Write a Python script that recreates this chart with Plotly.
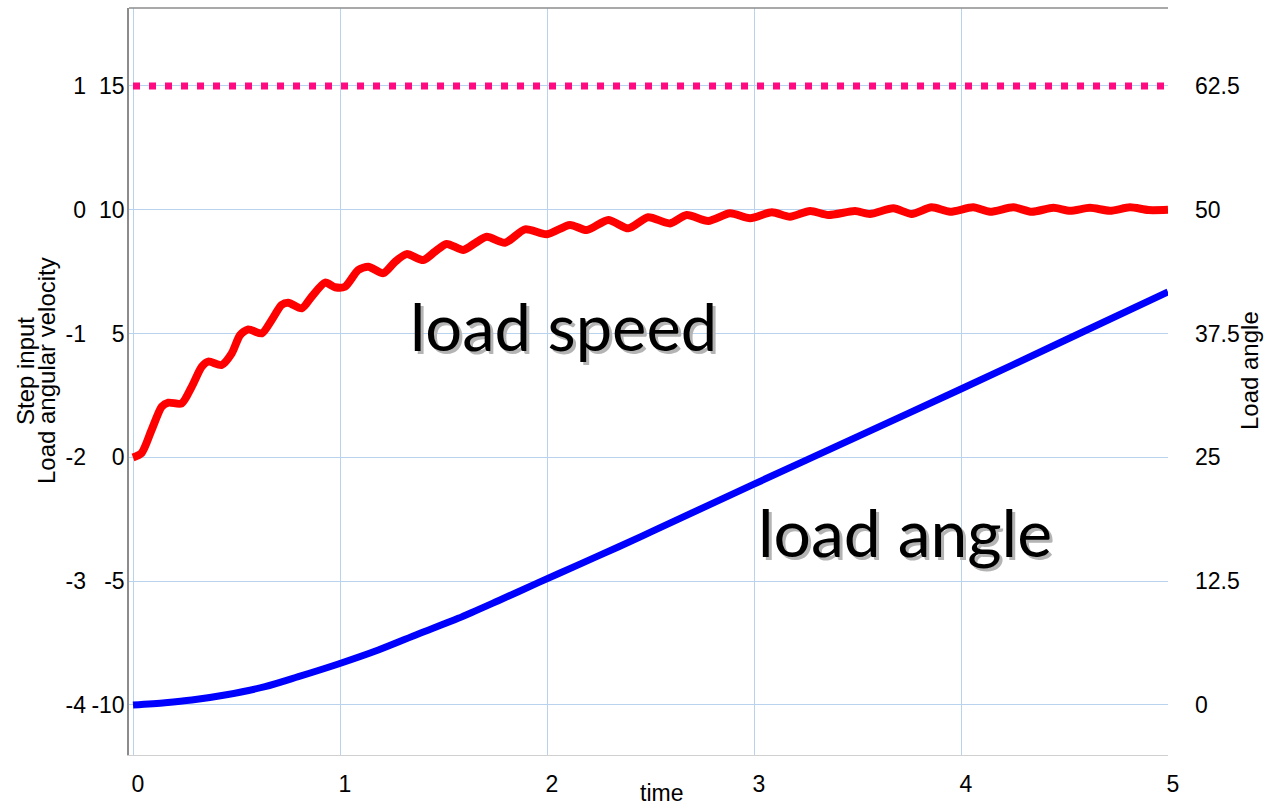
import plotly.graph_objects as go

# Simulation output: step input, load angular velocity (rad/s) and load angle (rad)
step_time = [0.0, 5.0]
step_input = [1.0, 1.0]

speed_time = [0.0, 0.042, 0.090, 0.139, 0.171, 0.235, 0.284, 0.332, 0.364, 0.428,
              0.477, 0.517, 0.557, 0.622, 0.670, 0.718, 0.750, 0.815, 0.863, 0.928,
              0.976, 1.024, 1.088, 1.137, 1.209, 1.266, 1.322, 1.402, 1.459, 1.515,
              1.596, 1.652, 1.709, 1.797, 1.894, 1.999, 2.111, 2.192, 2.296, 2.393,
              2.489, 2.594, 2.675, 2.779, 2.884, 2.981, 3.086, 3.174, 3.271, 3.359,
              3.488, 3.560, 3.673, 3.762, 3.858, 3.947, 4.059, 4.140, 4.253, 4.342,
              4.446, 4.527, 4.623, 4.720, 4.816, 4.905, 5.0]
load_speed = [0.0, 0.18, 1.11, 2.05, 2.21, 2.18, 2.86, 3.66, 3.87, 3.73,
              4.20, 4.94, 5.17, 5.01, 5.55, 6.16, 6.25, 6.02, 6.49, 7.06,
              6.87, 6.89, 7.57, 7.70, 7.44, 7.90, 8.21, 7.97, 8.31, 8.62,
              8.38, 8.65, 8.91, 8.67, 9.21, 9.01, 9.39, 9.18, 9.59, 9.25,
              9.70, 9.45, 9.79, 9.55, 9.86, 9.66, 9.90, 9.72, 9.95, 9.79,
              9.95, 9.83, 10.06, 9.83, 10.10, 9.92, 10.10, 9.92, 10.10, 9.92,
              10.08, 9.96, 10.08, 9.96, 10.10, 9.99, 10.0]

angle_time = [0.0, 0.155, 0.284, 0.444, 0.638, 0.799, 0.992, 1.185, 1.378, 1.571,
              1.765, 1.958, 2.151, 2.344, 2.5, 3.0, 3.5, 4.0, 4.5, 5.0]
load_angle = [0.0, 0.23, 0.50, 1.01, 1.85, 2.86, 4.14, 5.55, 7.17, 8.75,
              10.53, 12.35, 14.15, 15.95, 17.45, 22.3, 27.1, 31.9, 36.8, 41.7]

x_ticks = [0, 1, 2, 3, 4, 5]
speed_ticks = [-10, -5, 0, 5, 10, 15]
step_ticks = [-4, -3, -2, -1, 0, 1]
angle_ticks = [0, 12.5, 25, 37.5, 50, 62.5]


def labels(values):
    # plain hyphen-minus for negative numbers, no trailing ".0"
    return [("%g" % v) for v in values]


W, H = 1266, 809
PLOT_L, PLOT_R = 129, 1168
GRID = "#b9d3ef"
TICK_FONT = dict(family="Liberation Sans, Arial, sans-serif", size=23, color="#000000")
TITLE_FONT = dict(family="Liberation Sans, Arial, sans-serif", size=24, color="#000000")
LABEL_FONT = "Comic Sans MS, Lato, sans-serif"

fig = go.Figure()

fig.add_trace(go.Scatter(
    x=step_time, y=step_input, yaxis="y3", mode="lines",
    line=dict(color="#ff0a80", width=7, dash="7px,9px"),
    name="Step input", hoverinfo="skip"))

fig.add_trace(go.Scatter(
    x=speed_time, y=load_speed, yaxis="y", mode="lines",
    line=dict(color="#ff0000", width=8, shape="spline", smoothing=0.7),
    name="Load angular velocity", hoverinfo="skip"))

fig.add_trace(go.Scatter(
    x=angle_time, y=load_angle, yaxis="y2", mode="lines",
    line=dict(color="#0000ff", width=7, shape="spline", smoothing=0.8),
    name="Load angle", hoverinfo="skip"))

fig.update_layout(
    width=W, height=H,
    margin=dict(l=0, r=0, t=8, b=54, autoexpand=False),
    paper_bgcolor="#ffffff", plot_bgcolor="#ffffff",
    showlegend=False,
    xaxis=dict(
        domain=[PLOT_L / W, PLOT_R / W],
        range=[-4 / 207, 5.0],
        tickvals=x_ticks, ticktext=labels(x_ticks), ticks="", tickfont=TICK_FONT,
        ticklabelstandoff=8, ticklabelshift=5,
        showgrid=True, gridcolor=GRID, gridwidth=1,
        zeroline=False,
        showline=True, linecolor="#d0d0d0", linewidth=1,
    ),
    yaxis=dict(
        range=[-12.02, 18.15],
        tickvals=speed_ticks, ticktext=labels(speed_ticks), ticks="",
        tickfont=TICK_FONT, ticklabelstandoff=-2,
        showgrid=True, gridcolor=GRID, gridwidth=1,
        zeroline=False,
        showline=True, linecolor="#8c8c8c", linewidth=1.5,
    ),
    yaxis2=dict(
        range=[-5.05, 70.375],
        overlaying="y", side="right", anchor="x",
        tickvals=angle_ticks, ticktext=labels(angle_ticks), ticks="",
        tickfont=TICK_FONT, ticklabelstandoff=26,
        showgrid=False, zeroline=False, showline=False,
    ),
    yaxis3=dict(
        range=[-4.404, 1.63],
        overlaying="y", side="left", anchor="free", position=90 / W,
        tickvals=step_ticks, ticktext=labels(step_ticks), ticks="",
        tickfont=TICK_FONT, ticklabelstandoff=4,
        showgrid=False, zeroline=False, showline=False,
    ),
)

# frame line along the top of the plot area
fig.add_shape(type="line", xref="paper", yref="paper",
              x0=PLOT_L / W, x1=PLOT_R / W, y0=1, y1=1,
              line=dict(color="#8c8c8c", width=1.5))

annotations = [
    dict(text="time", x=661 / W, y=-0.051, xref="paper", yref="paper",
         xanchor="center", yanchor="middle", showarrow=False,
         font=dict(TITLE_FONT, size=23)),
    dict(text="Step input", x=25 / W, y=0.514,
         xref="paper", yref="paper", xanchor="center", yanchor="middle",
         textangle=-90, showarrow=False, font=TITLE_FONT),
    dict(text="Load angular velocity", x=46 / W, y=0.514,
         xref="paper", yref="paper", xanchor="center", yanchor="middle",
         textangle=-90, showarrow=False, font=TITLE_FONT),
    dict(text="Load angle", x=1249 / W, y=0.514, xref="paper", yref="paper",
         xanchor="center", yanchor="middle", textangle=-90, showarrow=False,
         font=TITLE_FONT),
]

# curve labels with a soft drop shadow
for label, lx, ly, size in [("load speed", 2.08, 5.3, 65), ("load angle", 3.73, -3.0, 66)]:
    for color, shift in [("#b4b4b4", 3), ("#000000", 0)]:
        annotations.append(dict(
            text=label, x=lx, y=ly, xref="x", yref="y",
            xanchor="center", yanchor="middle", showarrow=False,
            xshift=shift, yshift=-shift,
            font=dict(family=LABEL_FONT, size=size, color=color)))

fig.update_layout(annotations=annotations)

fig.write_html("out.html", config={"displayModeBar": False})
